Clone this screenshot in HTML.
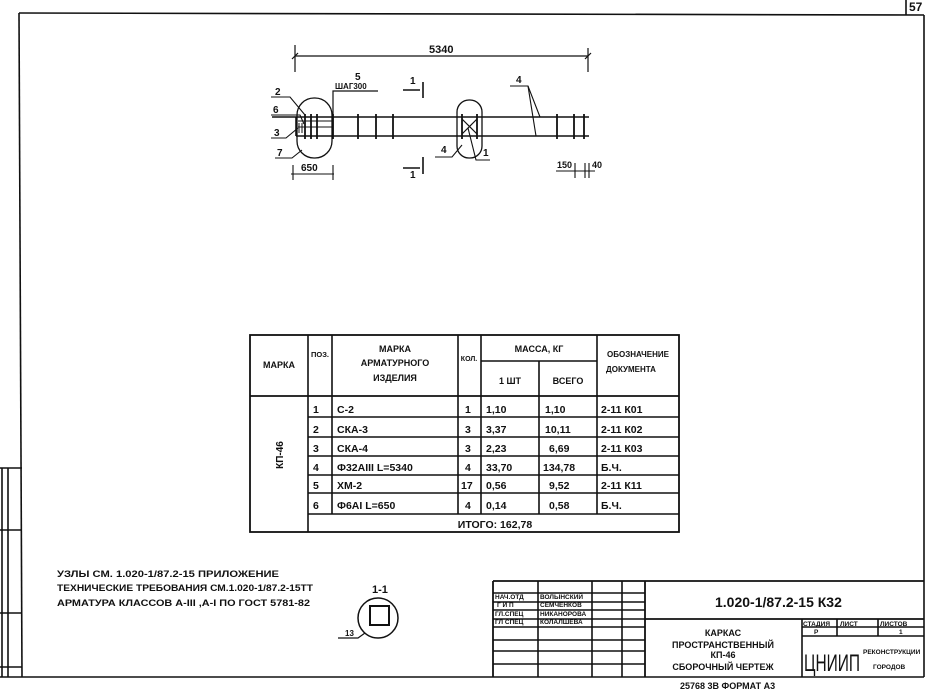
<!DOCTYPE html>
<html><head><meta charset="utf-8"><style>
html,body{margin:0;padding:0;background:#fff}
svg{display:block}
text{font-family:"Liberation Sans",sans-serif;font-weight:bold;fill:#111}
</style></head><body>
<svg width="928" height="689" viewBox="0 0 928 689" xmlns="http://www.w3.org/2000/svg">
<g stroke="#111" fill="none" stroke-width="1.6">
<polyline points="906,0 906,15" />
<line x1="19" y1="13" x2="924" y2="15"/>
<line x1="19" y1="13" x2="22" y2="677"/>
<line x1="924" y1="15" x2="924" y2="677"/>
<line x1="0" y1="677" x2="924" y2="677"/>
<line x1="2" y1="468" x2="2" y2="677"/>
<line x1="8" y1="468" x2="8" y2="677"/>
<line x1="0" y1="468" x2="22" y2="468"/>
<line x1="0" y1="530" x2="22" y2="530"/>
<line x1="0" y1="613" x2="22" y2="613"/>
<line x1="0" y1="667" x2="22" y2="667"/>

<line x1="295" y1="56" x2="588" y2="56" stroke-width="1.2"/>
<line x1="295" y1="45" x2="295" y2="72" stroke-width="1.2"/>
<line x1="588" y1="48" x2="588" y2="72" stroke-width="1.2"/>
<line x1="292" y1="59" x2="298" y2="53" stroke-width="1.2"/>
<line x1="585" y1="59" x2="591" y2="53" stroke-width="1.2"/>
<line x1="272" y1="117" x2="589" y2="117"/>
<line x1="296" y1="136" x2="589" y2="136"/>
<line x1="296" y1="117" x2="296" y2="136"/>
<g stroke-width="1.8">
<line x1="305" y1="114" x2="305" y2="139"/><line x1="311" y1="114" x2="311" y2="139"/><line x1="317" y1="114" x2="317" y2="139"/>
<line x1="333" y1="114" x2="333" y2="139"/><line x1="358" y1="114" x2="358" y2="139"/><line x1="376" y1="114" x2="376" y2="139"/><line x1="393" y1="114" x2="393" y2="139"/>
<line x1="462" y1="114" x2="462" y2="139"/><line x1="477" y1="114" x2="477" y2="139"/>
<line x1="557" y1="114" x2="557" y2="139"/><line x1="574" y1="114" x2="574" y2="139"/><line x1="584" y1="114" x2="584" y2="139"/>
</g>
<line x1="298" y1="121" x2="332" y2="121" stroke-width="1"/>
<line x1="298" y1="127" x2="332" y2="127" stroke-width="1"/>
<line x1="299" y1="123" x2="299" y2="133" stroke-width="1"/><line x1="302" y1="123" x2="302" y2="133" stroke-width="1"/>
<line x1="462" y1="119" x2="477" y2="134" stroke-width="1.2"/><line x1="477" y1="119" x2="462" y2="134" stroke-width="1.2"/>
<rect x="297" y="98" width="35" height="60" rx="17" stroke-width="1.3"/>
<rect x="457" y="100" width="25" height="58" rx="12" stroke-width="1.3"/>
<polyline points="333,136 333,91 378,91" stroke-width="1.2"/>
<polyline points="271,97 290,97 305,115" stroke-width="1.1"/>
<polyline points="271,115 300,115 304,124" stroke-width="1.1"/>
<polyline points="271,138 286,138 298,128" stroke-width="1.1"/>
<polyline points="275,158 292,158 302,150" stroke-width="1.1"/>
<polyline points="510,86 528,86 540,117" stroke-width="1.1"/>
<line x1="528" y1="86" x2="536" y2="136" stroke-width="1.1"/>
<polyline points="435,157 452,157 462,145" stroke-width="1.1"/>
<polyline points="490,160 476,160 468,128" stroke-width="1.1"/>
<line x1="403" y1="90" x2="420" y2="90"/><line x1="423" y1="82" x2="423" y2="98"/>
<line x1="403" y1="168" x2="420" y2="168"/><line x1="423" y1="157" x2="423" y2="174"/>
<line x1="291" y1="174" x2="334" y2="174" stroke-width="1.1"/>
<line x1="293" y1="165" x2="293" y2="180" stroke-width="1.1"/><line x1="333" y1="165" x2="333" y2="180" stroke-width="1.1"/>
<line x1="556" y1="171" x2="595" y2="171" stroke-width="1.1"/>
<line x1="575" y1="163" x2="575" y2="178" stroke-width="1.1"/><line x1="585" y1="163" x2="585" y2="178" stroke-width="1.1"/><line x1="589" y1="163" x2="589" y2="178" stroke-width="1.1"/>

<rect x="250" y="335" width="429" height="197" stroke-width="1.8"/>
<line x1="308" y1="335" x2="308" y2="532"/>
<line x1="332" y1="335" x2="332" y2="514"/>
<line x1="458" y1="335" x2="458" y2="514"/>
<line x1="481" y1="335" x2="481" y2="514"/>
<line x1="539" y1="361" x2="539" y2="514"/>
<line x1="597" y1="335" x2="597" y2="514"/>
<line x1="481" y1="361" x2="597" y2="361"/>
<line x1="250" y1="396" x2="679" y2="396" stroke-width="1.8"/>
<line x1="308" y1="417" x2="679" y2="417"/>
<line x1="308" y1="437" x2="679" y2="437"/>
<line x1="308" y1="456" x2="679" y2="456"/>
<line x1="308" y1="475" x2="679" y2="475"/>
<line x1="308" y1="493" x2="679" y2="493"/>
<line x1="308" y1="514" x2="679" y2="514"/>

<circle cx="378" cy="618" r="20" stroke-width="1.5"/>
<rect x="370" y="606" width="19" height="19" stroke-width="2"/>
<polyline points="338,638 358,638 365,633" stroke-width="1.2"/>

<line x1="493" y1="581" x2="924" y2="581" stroke-width="1.8"/>
<line x1="493" y1="581" x2="493" y2="677" stroke-width="1.8"/>
<line x1="538" y1="581" x2="538" y2="677"/>
<line x1="592" y1="581" x2="592" y2="677"/>
<line x1="622" y1="581" x2="622" y2="677"/>
<line x1="645" y1="581" x2="645" y2="677" stroke-width="1.8"/>
<line x1="493" y1="593" x2="645" y2="593"/>
<line x1="493" y1="602" x2="645" y2="602"/>
<line x1="493" y1="610" x2="645" y2="610"/>
<line x1="493" y1="619" x2="645" y2="619"/>
<line x1="493" y1="627" x2="645" y2="627"/>
<line x1="493" y1="640" x2="645" y2="640"/>
<line x1="493" y1="651" x2="645" y2="651"/>
<line x1="493" y1="664" x2="645" y2="664"/>
<line x1="645" y1="619" x2="924" y2="619" stroke-width="1.8"/>
<line x1="802" y1="619" x2="802" y2="677"/>
<line x1="837" y1="619" x2="837" y2="636"/>
<line x1="878" y1="619" x2="878" y2="636"/>
<line x1="802" y1="627" x2="924" y2="627"/>
<line x1="802" y1="636" x2="924" y2="636"/>
</g>

<text x="909" y="11" font-size="12">57</text>
<text x="429" y="53" font-size="11">5340</text>
<text x="355" y="80" font-size="10">5</text>
<text x="335" y="89" font-size="8">ШАГ300</text>
<text x="410" y="84" font-size="10">1</text>
<text x="410" y="178" font-size="10">1</text>
<text x="516" y="83" font-size="10">4</text>
<text x="275" y="95" font-size="10">2</text>
<text x="273" y="113" font-size="10">6</text>
<text x="274" y="136" font-size="10">3</text>
<text x="277" y="156" font-size="10">7</text>
<text x="441" y="153" font-size="10">4</text>
<text x="483" y="156" font-size="10">1</text>
<text x="301" y="171" font-size="10">650</text>
<text x="557" y="168" font-size="9">150</text>
<text x="592" y="168" font-size="9">40</text>

<g font-size="9" text-anchor="middle">
<text x="279" y="368">МАРКА</text>
<text x="320" y="357" font-size="7.5">ПОЗ.</text>
<text x="395" y="352">МАРКА</text>
<text x="395" y="366">АРМАТУРНОГО</text>
<text x="395" y="381">ИЗДЕЛИЯ</text>
<text x="469" y="361" font-size="7">КОЛ.</text>
<text x="539" y="352">МАССА, КГ</text>
<text x="510" y="384">1 ШТ</text>
<text x="568" y="384">ВСЕГО</text>
<text x="638" y="357" font-size="8">ОБОЗНАЧЕНИЕ</text>
<text x="631" y="372" font-size="8">ДОКУМЕНТА</text>
</g>
<text font-size="10" text-anchor="middle" transform="translate(283,455) rotate(-90)">КП-46</text>
<g font-size="10.5">
<text x="313" y="413">1</text><text x="337" y="413">С-2</text><text x="465" y="413">1</text><text x="486" y="413">1,10</text><text x="545" y="413">1,10</text><text x="601" y="413">2-11 К01</text>
<text x="313" y="433">2</text><text x="337" y="433">СКА-3</text><text x="465" y="433">3</text><text x="486" y="433">3,37</text><text x="545" y="433">10,11</text><text x="601" y="433">2-11 К02</text>
<text x="313" y="452">3</text><text x="337" y="452">СКА-4</text><text x="465" y="452">3</text><text x="486" y="452">2,23</text><text x="549" y="452">6,69</text><text x="601" y="452">2-11 К03</text>
<text x="313" y="471">4</text><text x="337" y="471">Ф32АIII  L=5340</text><text x="465" y="471">4</text><text x="486" y="471">33,70</text><text x="543" y="471">134,78</text><text x="601" y="471">Б.Ч.</text>
<text x="313" y="489">5</text><text x="337" y="489">ХМ-2</text><text x="461" y="489">17</text><text x="486" y="489">0,56</text><text x="549" y="489">9,52</text><text x="601" y="489">2-11 К11</text>
<text x="313" y="509">6</text><text x="337" y="509">Ф6АI     L=650</text><text x="465" y="509">4</text><text x="486" y="509">0,14</text><text x="549" y="509">0,58</text><text x="601" y="509">Б.Ч.</text>
<text x="495" y="528" text-anchor="middle">ИТОГО: 162,78</text>
</g>

<g font-size="9.5">
<text x="57" y="577" textLength="222" lengthAdjust="spacingAndGlyphs">УЗЛЫ СМ. 1.020-1/87.2-15 ПРИЛОЖЕНИЕ</text>
<text x="57" y="591" textLength="256" lengthAdjust="spacingAndGlyphs">ТЕХНИЧЕСКИЕ ТРЕБОВАНИЯ СМ.1.020-1/87.2-15ТТ</text>
<text x="57" y="606" textLength="253" lengthAdjust="spacingAndGlyphs">АРМАТУРА КЛАССОВ А-III ,А-I ПО ГОСТ 5781-82</text>
</g>
<text x="372" y="593" font-size="11">1-1</text>
<text x="345" y="636" font-size="8">13</text>

<g font-size="6.5">
<text x="495" y="599">НАЧ.ОТД</text><text x="540" y="599">ВОЛЫНСКИЙ</text>
<text x="497" y="607">Г И П</text><text x="540" y="607">СЕМЧЕНКОВ</text>
<text x="495" y="616">ГЛ.СПЕЦ</text><text x="540" y="616">НИКАНОРОВА</text>
<text x="495" y="624">ГЛ СПЕЦ</text><text x="540" y="624">КОЛАЛШЕВА</text>
</g>
<text x="715" y="607" font-size="14">1.020-1/87.2-15  К32</text>
<g font-size="9" text-anchor="middle">
<text x="723" y="636">КАРКАС</text>
<text x="723" y="648">ПРОСТРАНСТВЕННЫЙ</text>
<text x="723" y="658">КП-46</text>
<text x="723" y="670">СБОРОЧНЫЙ ЧЕРТЕЖ</text>
</g>
<g font-size="6.5">
<text x="803" y="626">СТАДИЯ</text><text x="840" y="626">ЛИСТ</text><text x="880" y="626">ЛИСТОВ</text>
<text x="814" y="634">Р</text><text x="899" y="634">1</text>
<text x="863" y="654">РЕКОНСТРУКЦИИ</text><text x="873" y="669">ГОРОДОВ</text>
</g>
<text x="804" y="671" font-size="24" style="font-weight:normal" textLength="56" lengthAdjust="spacingAndGlyphs">ЦНИИП</text>
<text x="680" y="689" font-size="9">25768      3В      ФОРМАТ А3</text>
</svg>
</body></html>
